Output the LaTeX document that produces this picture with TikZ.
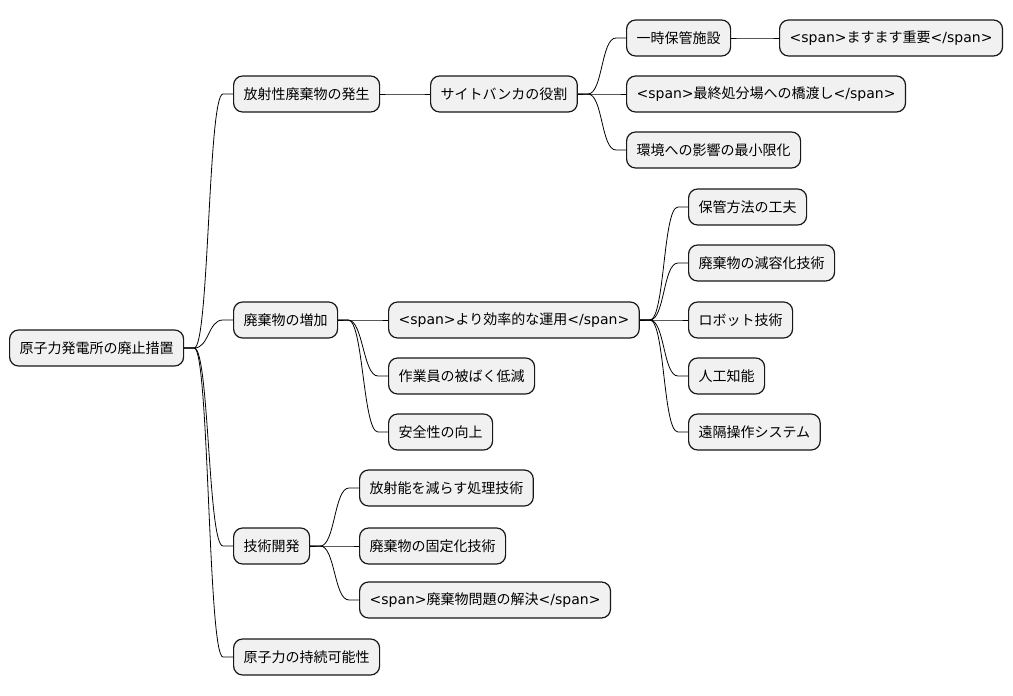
\documentclass[tikz,border=0pt]{standalone}
\usepackage{fontspec}
\setmainfont{Noto Sans CJK JP}
\newfontfamily\spanfont{DejaVu Sans}
\newcommand{\spanon}{{\spanfont<span>}}
\newcommand{\spanoff}{{\spanfont</span>}}
\usetikzlibrary{positioning,calc}
\definecolor{nodefill}{HTML}{F1F1F1}
\definecolor{nodeline}{HTML}{181818}

\begin{document}
\begin{tikzpicture}[
  x=1pt, y=-1pt,
  font=\fontsize{14pt}{16pt}\selectfont,
  box/.style={draw=nodeline, fill=nodefill, line width=1.2pt, rounded corners=9pt,
              minimum height=36pt, inner xsep=10pt, anchor=west},
  link/.style={line width=0.8pt, to path={-- ++(10pt,0)
      .. controls +(15pt,0) and ($(\tikztotarget)+(-25pt,0)$) .. ($(\tikztotarget)+(-10pt,0)$)
      -- (\tikztotarget)}},
]
\useasboundingbox (0,0) rectangle (1013,696);

% ---- root and first level ----
\node[box] (root) at (9,348) {原子力発電所の廃止措置};
\node[box] (gen) at (233,94) {放射性廃棄物の発生};
\node[box] (incr) at (233,320) {廃棄物の増加};
\node[box] (dev) at (233,546) {技術開発};
\node[box] (sust) at (233,657) {原子力の持続可能性};

% ---- site bunker branch ----
\node[box] (bunker) at (430,94) {サイトバンカの役割};
\node[box] (temp) at (626,38) {一時保管施設};
\node[box] (imp) at (779,38) {\spanon ますます重要\spanoff};
\node[box] (bridge) at (626,94) {\spanon 最終処分場への橋渡し\spanoff};
\node[box] (env) at (626,150) {環境への影響の最小限化};

% ---- waste increase branch ----
\node[box] (ops) at (388,320) {\spanon より効率的な運用\spanoff};
\node[box] (expo) at (388,376) {作業員の被ばく低減};
\node[box] (safe) at (388,432) {安全性の向上};
\node[box] (store) at (688,207) {保管方法の工夫};
\node[box] (vol) at (688,263) {廃棄物の減容化技術};
\node[box] (robot) at (688,320) {ロボット技術};
\node[box] (ai) at (688,376) {人工知能};
\node[box] (remote) at (688,432) {遠隔操作システム};

% ---- technology branch ----
\node[box] (treat) at (359,488) {放射能を減らす処理技術};
\node[box] (fix) at (359,546) {廃棄物の固定化技術};
\node[box] (solve) at (359,600) {\spanon 廃棄物問題の解決\spanoff};

% ---- links ----
\foreach \a/\b in {root/gen, root/incr, root/dev, root/sust,
                   gen/bunker, bunker/temp, temp/imp, bunker/bridge, bunker/env,
                   incr/ops, incr/expo, incr/safe,
                   ops/store, ops/vol, ops/robot, ops/ai, ops/remote,
                   dev/treat, dev/fix, dev/solve}
  \draw[link] (\a.east) to (\b.west);
\end{tikzpicture}
\end{document}
